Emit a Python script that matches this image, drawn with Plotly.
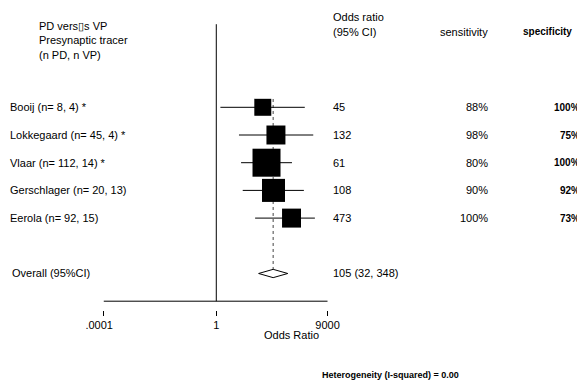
import plotly.graph_objects as go
import math

# ---------------- data ----------------
header_left = ["PD vers\u25afs VP", "Presynaptic tracer", "(n PD, n VP)"]
studies = ["Booij (n= 8, 4) *", "Lokkegaard (n= 45, 4) *", "Vlaar (n= 112, 14) *",
           "Gerschlager (n= 20, 13)", "Eerola (n= 92, 15)"]
odds_ratio = [45, 132, 61, 108, 473]
ci_low = [1.4, 6.4, 7.6, 8.7, 24]
ci_high = [1400, 2800, 490, 1300, 3200]
weights = [12.4, 15.5, 33.7, 22.8, 15.5]
sensitivity = ["88%", "98%", "80%", "90%", "100%"]
specificity = ["100%", "75%", "100%", "92%", "73%"]
overall_label = "Overall (95%CI)"
overall_or = 105
overall_low = 32
overall_high = 348
i_squared = 0.00
tick_vals = [0.0001, 1, 9000]
tick_text = [".0001\u00a0\u00a0\u00a0", "1", "9000"]

# ---------------- layout helpers ----------------
W, H = 577, 382
FONT = "Liberation Sans, Arial, sans-serif"
rows = [i + 1 for i in range(len(studies))]
overall_row = len(studies) + 2
axis_row = overall_row + 1
top_row = -2


def px(x):
    return x / W


fig = go.Figure()

# reference line at OR = 1
fig.add_trace(go.Scatter(x=[1, 1], y=[top_row, axis_row], mode="lines",
                         line=dict(color="black", width=1), hoverinfo="skip"))
# axis line
fig.add_trace(go.Scatter(x=[tick_vals[0], tick_vals[-1]], y=[axis_row, axis_row], mode="lines",
                         line=dict(color="black", width=1), hoverinfo="skip"))
# overall dashed line
fig.add_trace(go.Scatter(x=[overall_or, overall_or], y=[rows[0] - 0.3, overall_row], mode="lines",
                         line=dict(color="#444444", width=1, dash="dot"), hoverinfo="skip"))
# CI lines
cx, cy = [], []
for lo, hi, r in zip(ci_low, ci_high, rows):
    cx += [lo, hi, None]
    cy += [r, r, None]
fig.add_trace(go.Scatter(x=cx, y=cy, mode="lines", line=dict(color="black", width=1),
                         hoverinfo="skip"))
# squares
k = 28 / math.sqrt(max(weights))
fig.add_trace(go.Scatter(x=odds_ratio, y=rows, mode="markers",
                         marker=dict(symbol="square", color="black", opacity=1,
                                     size=[k * math.sqrt(w) for w in weights],
                                     line=dict(width=0))))
# diamond
dh = 0.15
fig.add_trace(go.Scatter(x=[overall_low, overall_or, overall_high, overall_or, overall_low],
                         y=[overall_row, overall_row - dh, overall_row, overall_row + dh, overall_row],
                         mode="lines", fill="toself", fillcolor="white",
                         line=dict(color="black", width=1), hoverinfo="skip"))

ann = []


def txt(x, y, s, anchor="left", size=11, bold=False, yref="y"):
    ann.append(dict(x=px(x), xref="paper", y=y, yref=yref, text=s, showarrow=False,
                    xanchor=anchor, yanchor="middle",
                    font=dict(family=FONT, size=size, color="black",
                              weight="bold" if bold else "normal")))


# headers
for i, (s, yv) in enumerate(zip(header_left, [-1.935, -1.43, -0.89])):
    txt(37, yv, s)
txt(331, -2.26, "Odds ratio")
txt(331, -1.72, "(95% CI)")
txt(490, -1.72, "sensitivity", anchor="right")
txt(574, -1.72, "specificity", anchor="right", size=10, bold=True)

for r, s, o, se, sp in zip(rows, studies, odds_ratio, sensitivity, specificity):
    txt(8, r, s)
    txt(331, r, str(o))
    txt(490, r, se, anchor="right")
    txt(582, r, sp, anchor="right", size=10, bold=True)

txt(10, overall_row, overall_label)
txt(331, overall_row, f"{overall_or} ({overall_low}, {overall_high})")

# axis title and heterogeneity
ann.append(dict(x=px(292), xref="paper", y=(310 - 335) / 310, yref="paper", text="Odds Ratio",
                showarrow=False, xanchor="center", yanchor="middle",
                font=dict(family=FONT, size=11, color="black")))
ann.append(dict(x=px(320), xref="paper", y=(310 - 375) / 310, yref="paper",
                text=f"Heterogeneity (I-squared) = {i_squared:.2f}",
                showarrow=False, xanchor="left", yanchor="middle",
                font=dict(family=FONT, size=9, color="black", weight="bold")))

fig.update_layout(
    width=W, height=H, margin=dict(l=0, r=0, t=0, b=72),
    paper_bgcolor="white", plot_bgcolor="white", showlegend=False,
    annotations=ann,
    xaxis=dict(type="log", range=[-7.689, 12.823], showgrid=False, zeroline=False,
               showline=False, ticks="outside", ticklen=5, tickwidth=1, tickcolor="black",
               tickvals=tick_vals, ticktext=tick_text,
               tickfont=dict(family=FONT, size=11, color="black"), fixedrange=True),
    yaxis=dict(range=[8.318, -2.874], visible=False, fixedrange=True),
)

fig.write_html("out.html")
